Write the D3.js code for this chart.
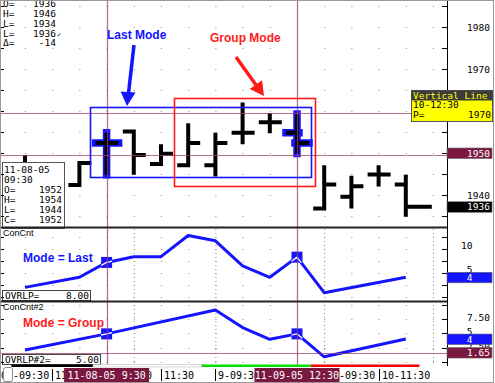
<!DOCTYPE html>
<meta charset="utf-8">
<style>
body { margin: 0; background: #fff; }
svg { display: block; }
text { font-family: 'DejaVu Sans Mono', monospace; font-size: 9.5px; fill: #000; }
.note { font-family: 'Liberation Sans', Arial, sans-serif; font-weight: bold; font-size: 12px; }
.small { font-family: 'Liberation Sans', Arial, sans-serif; font-size: 9px; }
</style>
<body>
<svg width="495" height="383"></svg>
<script src="https://d3js.org/d3.v7.min.js"></script>
<script>

// hourly price bars, index 0..14
var opens  = [1946, 1944, 1942.4, 1952.4, 1955.1, 1947.4, 1947.1, 1947.1, 1954.8, 1957.3, 1954.8, 1936.8, 1939.6, 1944.9, 1942.5];
var highs  = [1949.5, 1946, 1947.6, 1954.8, 1955.1, 1952.1, 1957.1, 1954.8, 1962, 1959.5, 1959.3, 1947.1, 1944.6, 1947.1, 1944.8];
var lows   = [1941, 1940, 1942.4, 1944.8, 1944.8, 1946.9, 1947.1, 1944.4, 1952.1, 1954.7, 1949.9, 1936.8, 1936.8, 1942, 1934.8];
var closes = [1944, 1942, 1947.6, 1952.4, 1949.5, 1949.8, 1952.4, 1952.4, 1954.8, 1957.3, 1952.4, 1942.5, 1942.1, 1944.9, 1937.2];

// ConCnt (mode = last) and ConCnt#2 (mode = group)
var conCntIdx  = [0, 2, 3, 4, 5, 6, 7, 8, 9, 10, 11, 14];
var conCnt     = [1.9, 4, 7.1, 8.3, 8.3, 12.7, 11.6, 6.4, 4, 8.2, 0.8, 4];
var conCnt2Idx = [0, 3, 7, 8, 9, 10, 11, 14];
var conCnt2    = [2.1, 4.9, 9.05, 6.0, 3.95, 4.9, 0.9, 4];

var priceTicks = [1980, 1970, 1960, 1950, 1940];
var cntTicks   = [10, 5];
var cnt2Ticks  = [7.5, 5, 2.5];
var hLines     = [1959.5, 1949.5];

var timeIdx    = [-1, 1, 3, 5, 7, 9, 11, 13];
var timeLabels = ["07-09:30", "11:30", " 8-09:30", "11:30", " 9-09:30", "11:30", "10-09:30", "10-11:30"];
var sessionStart = [-0.5, 2.5, 6.5, 10.5];
var sessionEnd   = [2.5, 6.5, 10.5, 14.5];
var cursorIdx    = [3, 10];
var cursorLabels = ["11-08-05  9:30", "11-09-05 12:30"];

var svg = d3.select("svg");
var axisX = 447;
var purple = "#a03f6c", maroon = "#7a1840", blue = "#1414ff", red = "#ff1a1a";

var x  = d3.scaleLinear().domain([0, 14]).range([25, 405.8]);
var y  = d3.scaleLinear().domain([1940, 1980]).range([195, 27]);
var y2 = d3.scaleLinear().domain([0, 14]).range([296.5, 229.3]);
var y3 = d3.scaleLinear().domain([0, 10]).range([362, 304.6]);

svg.append("rect").attr("width", 495).attr("height", 383).attr("fill", "#fff");

var defs = svg.append("defs");
defs.append("clipPath").attr("id", "cMain").append("rect")
    .attr("x", 1).attr("y", 0).attr("width", axisX - 1).attr("height", 227);
defs.append("clipPath").attr("id", "c2").append("rect")
    .attr("x", 1).attr("y", 229).attr("width", axisX - 1).attr("height", 71);
defs.append("clipPath").attr("id", "c3").append("rect")
    .attr("x", 1).attr("y", 302).attr("width", axisX - 1).attr("height", 63);

// grid dots
function dots(g, scale, vals) {
  vals.forEach(function(v) {
    d3.range(0, 16).forEach(function(i) {
      g.append("rect").attr("x", x(i)).attr("y", Math.round(scale(v)))
        .attr("width", 1).attr("height", 1).attr("fill", "#888");
    });
  });
}
var gMain = svg.append("g").attr("clip-path", "url(#cMain)");
var g2 = svg.append("g").attr("clip-path", "url(#c2)");
var g3 = svg.append("g").attr("clip-path", "url(#c3)");
dots(gMain, y, d3.range(1935, 1986, 5));
dots(g2, y2, [0, 2.5, 5, 7.5, 10, 12.5]);
dots(g3, y3, [0, 2.5, 5, 7.5, 10]);
[4, 7, 11, 15].forEach(function(i) {
  [g2, g3].forEach(function(g) {
    g.append("line").attr("x1", x(i) + 0.5).attr("x2", x(i) + 0.5).attr("y1", 229).attr("y2", 366)
      .attr("stroke", "#888").attr("stroke-dasharray", "1,3");
  });
});

// price bars
function barPath(i) {
  var xi = x(i), last = i === opens.length - 1;
  return "M" + xi + "," + y(highs[i]) + "V" + y(lows[i]) +
    "M" + (xi - 11) + "," + y(opens[i]) + "H" + (xi + 2) +
    "M" + (xi - 2) + "," + y(closes[i]) + "H" + (xi + (last ? 26 : 12));
}
gMain.selectAll(".hl").data(cursorIdx).enter().append("path")
    .attr("d", barPath).attr("fill", "none").attr("stroke", blue)
    .attr("stroke-width", 7.5).attr("stroke-linecap", "square");
gMain.selectAll(".bar").data(d3.range(opens.length)).enter().append("path")
    .attr("d", barPath).attr("fill", "none").attr("stroke", "#000").attr("stroke-width", 4);

// horizontal price lines and vertical cursor lines
hLines.forEach(function(p) {
  svg.append("line").attr("x1", 1).attr("x2", axisX).attr("y1", Math.round(y(p)) + 0.5).attr("y2", Math.round(y(p)) + 0.5)
    .attr("stroke", purple).attr("stroke-opacity", 0.75);
});
svg.append("line").attr("x1", 1).attr("x2", axisX).attr("y1", Math.round(y3(1.65)) + 0.5).attr("y2", Math.round(y3(1.65)) + 0.5)
  .attr("stroke", purple).attr("stroke-opacity", 0.75);
cursorIdx.forEach(function(i) {
  svg.append("line").attr("x1", Math.round(x(i)) + 0.5).attr("x2", Math.round(x(i)) + 0.5).attr("y1", 0).attr("y2", 365)
    .attr("stroke", purple).attr("stroke-opacity", 0.75).attr("stroke-width", 1.3);
});

// boxes and arrows
svg.append("rect").attr("x", 90.5).attr("y", 107.5).attr("width", 221).attr("height", 70)
  .attr("fill", "none").attr("stroke", blue).attr("stroke-width", 1.6);
svg.append("rect").attr("x", 174.5).attr("y", 98.5).attr("width", 141).attr("height", 88)
  .attr("fill", "none").attr("stroke", red).attr("stroke-width", 1.6);

svg.append("text").attr("class", "note").attr("x", 107).attr("y", 38.5).style("fill", blue).text("Last Mode");
svg.append("text").attr("class", "note").attr("x", 210).attr("y", 41.5).style("fill", red).text("Group Mode");
svg.append("line").attr("x1", 134).attr("y1", 45).attr("x2", 128.5).attr("y2", 93)
  .attr("stroke", blue).attr("stroke-width", 3.5);
svg.append("path").attr("d", "M135.6,92.6L120.6,91.4L127,106Z").attr("fill", blue);
svg.append("line").attr("x1", 236).attr("y1", 57).attr("x2", 256).attr("y2", 85)
  .attr("stroke", red).attr("stroke-width", 3.5);
svg.append("path").attr("d", "M262,80.2L249.7,89L264,96Z").attr("fill", red);

// indicator lines
function cntLine(g, idx, vals, scale, cid) {
  var line = d3.line().x(function(d, k) { return x(idx[k]); }).y(function(d) { return scale(d); });
  g.append("path").attr("d", line(vals)).attr("fill", "none").attr("stroke", blue)
    .attr("stroke-width", 3).attr("stroke-linejoin", "round");
  var cp = defs.append("clipPath").attr("id", cid);
  cursorIdx.forEach(function(ci) {
    var k = idx.indexOf(ci), cx = x(ci), cy = scale(vals[k]);
    g.append("rect").attr("x", cx - 5.5).attr("y", cy - 5.5).attr("width", 11).attr("height", 11).attr("fill", blue);
    cp.append("rect").attr("x", cx - 5.5).attr("y", cy - 5.5).attr("width", 11).attr("height", 11);
  });
  g.append("path").attr("d", line(vals)).attr("fill", "none").attr("stroke", "#fff")
    .attr("stroke-width", 1.3).attr("clip-path", "url(#" + cid + ")");
}
cntLine(g2, conCntIdx, conCnt, y2, "mk2");
cntLine(g3, conCnt2Idx, conCnt2, y3, "mk3");

svg.append("text").attr("class", "small").attr("x", 3).attr("y", 236).text("ConCnt");
svg.append("text").attr("class", "small").attr("x", 3).attr("y", 310).text("ConCnt#2");
svg.append("text").attr("class", "note").attr("x", 23).attr("y", 261.5).style("fill", blue).text("Mode = Last");
svg.append("text").attr("class", "note").attr("x", 23).attr("y", 326.5).style("fill", red).text("Mode = Group");

function infoBox(bx, by, w, label, value) {
  svg.append("rect").attr("x", bx + 0.5).attr("y", by + 0.5).attr("width", w).attr("height", 10)
    .attr("fill", "#fff").attr("stroke", "#444");
  svg.append("text").attr("x", bx + 3).attr("y", by + 9).text(label);
  svg.append("text").attr("x", bx + w - 1).attr("y", by + 9).attr("text-anchor", "end").text(value);
}
infoBox(2, 290, 88, "OVRLP=", "8.00");
infoBox(2, 354, 98, "OVRLP#2=", "5.00");

// top-left readout
var topRows = [["O=", "1936"], ["H=", "1946"], ["L=", "1934"], ["L=", "1936"], ["\u0394=", "-14"]];
topRows.forEach(function(r, k) {
  var by = 6.8 + k * 9.9;
  svg.append("text").attr("x", 3).attr("y", by).text(r[0]);
  svg.append("text").attr("x", 56).attr("y", by).attr("text-anchor", "end").text(r[1]);
});
svg.append("text").attr("x", 57).attr("y", 36.5).style("font-size", "7px").text("\u2713");

// data window
svg.append("rect").attr("x", 2.5).attr("y", 162.5).attr("width", 62).attr("height", 66)
  .attr("fill", "#fff").attr("stroke", "#555");
var dw = [["11-08-05", ""], ["09:30", ""], ["O=", "1952"], ["H=", "1954"], ["L=", "1944"], ["C=", "1952"]];
dw.forEach(function(r, k) {
  var by = 172.8 + k * 10;
  svg.append("text").attr("x", 4).attr("y", by).text(r[0]);
  svg.append("text").attr("x", 62).attr("y", by).attr("text-anchor", "end").text(r[1]);
});

// panel separators and axis
[227.5, 301.5].forEach(function(sy) {
  svg.append("line").attr("x1", 0).attr("x2", axisX).attr("y1", sy).attr("y2", sy)
    .attr("stroke", "#222").attr("stroke-width", 2);
});
svg.append("line").attr("x1", axisX + 0.5).attr("x2", axisX + 0.5).attr("y1", 0).attr("y2", 366).attr("stroke", "#000");

function rightTicks(scale, vals, y0, y1) {
  vals.forEach(function(v) {
    var ty = Math.round(scale(v)) + 0.5;
    if (ty < y0 || ty > y1) return;
    svg.append("line").attr("x1", axisX - 5).attr("x2", axisX).attr("y1", ty).attr("y2", ty).attr("stroke", "#000");
    svg.append("line").attr("x1", 1).attr("x2", 4).attr("y1", ty).attr("y2", ty).attr("stroke", "#000");
  });
}
rightTicks(y, d3.range(1930, 1990, 5), 0, 227);
rightTicks(y2, d3.range(0, 15, 2.5), 229, 300);
rightTicks(y3, d3.range(0, 11, 2.5), 302, 364);

priceTicks.forEach(function(p) {
  svg.append("text").attr("x", 490).attr("y", y(p) + 3.5).attr("text-anchor", "end").text(p);
});
function cntLabel(scale, v, dy) {
  var s = v % 1 ? v.toFixed(2) : String(v);
  svg.append("text").attr("x", v % 1 ? 490 : 472.5).attr("y", scale(v) + dy).attr("text-anchor", "end").text(s);
}
cntTicks.forEach(function(v) { cntLabel(y2, v, 0.5); });
cnt2Ticks.forEach(function(v) { cntLabel(y3, v, 2); });

// yellow cursor readout
svg.append("rect").attr("x", 411.5).attr("y", 90.5).attr("width", 81).attr("height", 31)
  .attr("fill", "#ffff00").attr("stroke", "#555");
svg.append("rect").attr("x", 411.5).attr("y", 90.5).attr("width", 81).attr("height", 10).attr("fill", "#3c3c3c");
svg.append("text").attr("x", 413).attr("y", 98.5).style("fill", "#ffff00").text("Vertical Line");
svg.append("text").attr("x", 413).attr("y", 108).text("10-12:30");
svg.append("text").attr("x", 413).attr("y", 118).text("P=");
svg.append("text").attr("x", 491).attr("y", 118).attr("text-anchor", "end").text("1970");

// value markers on the right axis
function marker(my, label, fill, tx) {
  svg.append("rect").attr("x", axisX).attr("y", my - 5).attr("width", 45).attr("height", 10.5)
    .attr("fill", fill).attr("stroke", "#666").attr("stroke-width", 0.6);
  svg.append("text").attr("x", tx).attr("y", my + 3.5).attr("text-anchor", "end").style("fill", "#fff").text(label);
}
marker(y(1950), "1950", maroon, 490);
marker(y(closes[closes.length - 1]), "1936", "#000", 490);
marker(y2(conCnt[conCnt.length - 1]), "4", blue, 472.5);
marker(y3(conCnt2[conCnt2.length - 1]), "4", blue, 472.5);
marker(y3(1.65), "1.65", maroon, 490);

// time axis
var sessionFills = ["#000", "#fff", "#00e000", "#ff0000"];
sessionStart.forEach(function(s, k) {
  svg.append("rect").attr("x", x(s)).attr("y", 364.5).attr("width", x(sessionEnd[k]) - x(s)).attr("height", 2.5)
    .attr("fill", sessionFills[k]).attr("stroke", k === 1 ? "#bbb" : "none").attr("stroke-width", 0.6);
});
timeIdx.forEach(function(i, k) {
  var tx = Math.round(x(i)) + 0.5;
  svg.append("line").attr("x1", tx).attr("x2", tx).attr("y1", 369).attr("y2", 381).attr("stroke", "#000");
  svg.append("text").attr("x", tx + 2.5).attr("y", 378.5).style("font-size", "10px").text(timeLabels[k]);
});
svg.append("rect").attr("x", 3.5).attr("y", 367.5).attr("width", 9).attr("height", 14).attr("rx", 2)
  .attr("fill", "#fff").attr("stroke", "#888");
cursorIdx.forEach(function(i, k) {
  svg.append("rect").attr("x", x(i) - 42.5).attr("y", 368).attr("width", 85).attr("height", 15).attr("fill", maroon);
  svg.append("text").attr("x", x(i)).attr("y", 378.5).attr("text-anchor", "middle")
    .style("font-size", "10px").style("fill", "#fff").text(cursorLabels[k]);
});

// outer frame
svg.append("rect").attr("x", 0.5).attr("y", 0.5).attr("width", 493).attr("height", 382)
  .attr("fill", "none").attr("stroke", "#999");

</script>
